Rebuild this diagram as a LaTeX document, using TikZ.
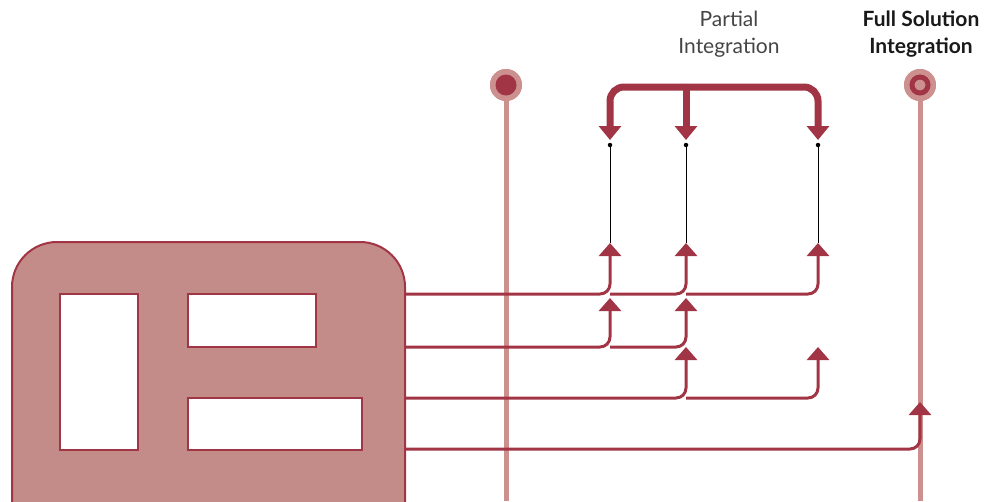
\documentclass[tikz,border=0pt]{standalone}
\usepackage{fontspec}
\setmainfont{Lato}
\usetikzlibrary{arrows.meta}
\definecolor{wine}{HTML}{A23545}
\definecolor{rose}{HTML}{C48C88}
\definecolor{railpink}{HTML}{CC908E}
\definecolor{capgray}{HTML}{454545}
\begin{document}
\begin{tikzpicture}[x=1pt,y=-1pt,
  feed/.style={draw=wine, line width=3pt, rounded corners=10pt,
    -{Triangle[width=22pt,length=13pt]}},
  bus/.style={draw=wine, line width=7pt, rounded corners=14pt,
    -{Triangle[width=22pt,length=14pt]}},
  probe/.style={draw=black, line width=0.9pt},
  pin/.style={circle, fill=black, minimum size=4.5pt, inner sep=0pt},
  rail/.style={draw=railpink, line width=5pt},
  panelbox/.style={draw=wine, fill=rose, line width=2pt, rounded corners=45pt,
    minimum width=393pt, minimum height=320pt, inner sep=0pt},
  hole/.style={draw=wine, fill=white, line width=2pt, inner sep=0pt},
  caption/.style={align=center, inner sep=0pt}]
\useasboundingbox (0,0) rectangle (987,501);
\clip (0,0) rectangle (987,501);

% vertical rails with their end markers
\node[circle, fill=railpink, minimum size=32pt, inner sep=0pt] (railA) at (506,85) {};
\node[circle, fill=railpink, minimum size=32pt, inner sep=0pt] (railB) at (920,85) {};
\coordinate (railAend) at (506,501);
\coordinate (railBend) at (920,501);
\draw[rail] (railA) -- (railAend);
\draw[rail] (railB) -- (railBend);
\node[circle, fill=railpink, minimum size=32pt, inner sep=0pt] at (railA) {};
\node[circle, fill=wine, minimum size=21pt, inner sep=0pt] (markA) at (railA) {};
\node[circle, fill=railpink, minimum size=32pt, inner sep=0pt] at (railB) {};
\node[circle, draw=wine, fill=railpink, line width=5pt, minimum size=16pt, inner sep=0pt] (markB) at (railB) {};

% captions
\node[caption, text=capgray, font=\fontsize{21}{27.5}\selectfont] (partial) at (729,34) {Partial\\Integration};
\node[caption, text=black!90, font=\fontsize{21}{27.5}\selectfont\bfseries] (full) at (921,34) {Full Solution\\Integration};

% the panel with its three slots
\node[panelbox] (panel) at (208.5,402) {};
\node[hole, minimum width=78pt, minimum height=156pt] (slotL) at (99,372) {};
\node[hole, minimum width=128pt, minimum height=53pt] (slotT) at (252,320.5) {};
\node[hole, minimum width=174pt, minimum height=52pt] (slotB) at (275,424) {};

% outlets on the panel edge
\coordinate (o1) at (405,294);
\coordinate (o2) at (405,347);
\coordinate (o3) at (405,398);
\coordinate (o4) at (405,449);

% probe pins and their inputs
\node[pin] (p1) at (610,145) {};
\node[pin] (p2) at (686,145) {};
\node[pin] (p3) at (818,145) {};
\coordinate (a1) at (610,243);
\coordinate (a2) at (686,243);
\coordinate (a3) at (818,243);
\draw[probe] (p1) -- (a1);
\draw[probe] (p2) -- (a2);
\draw[probe] (p3) -- (a3);

% second and third tiers of inputs
\coordinate (b1) at (610,298);
\coordinate (b2) at (686,298);
\coordinate (c2) at (686,347);
\coordinate (c3) at (818,347);
\coordinate (d4) at (920,402);

% branch starts along each row
\coordinate (r1a) at (610,294);
\coordinate (r1b) at (686,294);
\coordinate (r2a) at (610,347);
\coordinate (r3a) at (686,398);

% feed lines
\draw[feed] (o1) -| (a1);
\draw[feed] (r1a) -| (a2);
\draw[feed] (r1b) -| (a3);
\draw[feed] (o2) -| (b1);
\draw[feed] (r2a) -| (b2);
\draw[feed] (o3) -| (c2);
\draw[feed] (r3a) -| (c3);
\draw[feed] (o4) -| (d4);

% top distribution bus
\coordinate (hub) at (686,87);
\coordinate (t1) at (610,140);
\coordinate (t2) at (686,140);
\coordinate (t3) at (818,140);
\draw[bus] (hub) -| (t1);
\draw[bus] (hub) -| (t3);
\draw[bus] (hub) -- (t2);
\end{tikzpicture}
\end{document}
